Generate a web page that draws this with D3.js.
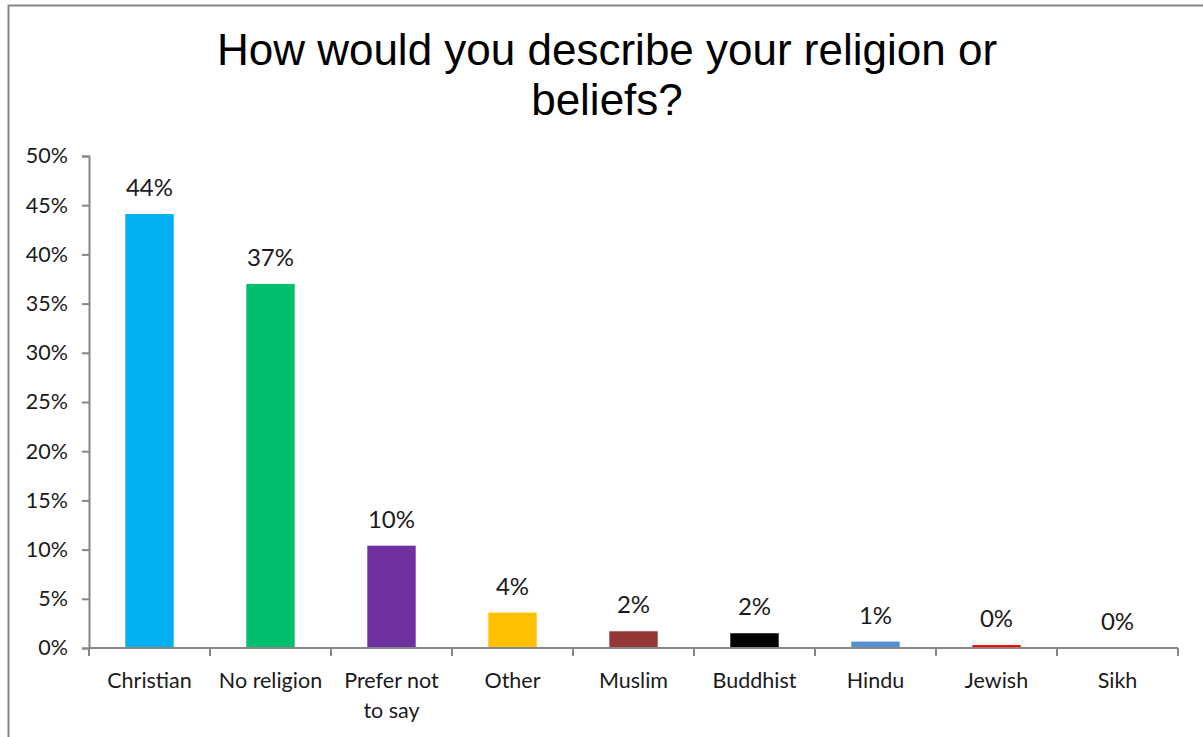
<!DOCTYPE html>
<html>
<head>
<meta charset="utf-8">
<script src="https://cdn.jsdelivr.net/npm/d3@7"></script>
<style>
  html, body { margin: 0; padding: 0; background: #fff; }
  svg { display: block; }
</style>
</head>
<body>
<svg id="chart" width="1203" height="737"></svg>
<script>
// Survey responses: share of respondents by religion or belief
const categories = ["Christian", "No religion", "Prefer not to say", "Other", "Muslim", "Buddhist", "Hindu", "Jewish", "Sikh"];
const shares = [44.1, 37.0, 10.4, 3.6, 1.7, 1.5, 0.65, 0.3, 0.0];
const barColors = ["#00B0F0", "#00BF6F", "#7030A0", "#FFC000", "#953735", "#000000", "#558ED5", "#FF0000", "#92D050"];
const yTicks = [0, 5, 10, 15, 20, 25, 30, 35, 40, 45, 50];
const titleLines = ["How would you describe your religion or", "beliefs?"];

const labelFont = "Lato, 'Open Sans', sans-serif";
const textColor = "#1a1a1a";
const svg = d3.select("#chart");

// outer chart frame
svg.append("rect")
  .attr("x", 8.5).attr("y", 5.5)
  .attr("width", 1220).attr("height", 760)
  .attr("fill", "#fff")
  .attr("stroke", "#868686").attr("stroke-width", 2);

// title
svg.append("text")
  .attr("x", 607).attr("y", 65)
  .attr("text-anchor", "middle")
  .attr("font-family", "'Liberation Sans', Arial, sans-serif")
  .attr("font-size", 44)
  .attr("fill", "#000")
  .selectAll("tspan")
  .data(titleLines)
  .join("tspan")
  .attr("x", 607)
  .attr("dy", (d, i) => i === 0 ? 0 : 50)
  .text(d => d);

const plot = { left: 89, right: 1178, top: 156, bottom: 648 };

const x = d3.scaleBand()
  .domain(categories)
  .range([plot.left, plot.right])
  .paddingInner(0.6)
  .paddingOuter(0.3);

const y = d3.scaleLinear()
  .domain([0, 50])
  .range([plot.bottom, plot.top]);

// y axis
const yAxis = svg.append("g")
  .attr("transform", `translate(${plot.left},0)`)
  .call(d3.axisLeft(y).tickValues(yTicks).tickFormat(d => d + "%").tickSize(7).tickPadding(14));
yAxis.select(".domain").attr("stroke", "#868686").attr("stroke-width", 2);
yAxis.selectAll(".tick line").attr("stroke", "#868686").attr("stroke-width", 2);
yAxis.selectAll(".tick text")
  .attr("font-family", labelFont).attr("font-size", 21.5).attr("fill", textColor);

// bars
svg.append("g")
  .selectAll("rect")
  .data(categories)
  .join("rect")
  .attr("x", d => x(d))
  .attr("width", x.bandwidth())
  .attr("y", (d, i) => y(shares[i]))
  .attr("height", (d, i) => y(0) - y(shares[i]))
  .attr("fill", (d, i) => barColors[i]);

// value labels
svg.append("g")
  .selectAll("text")
  .data(categories)
  .join("text")
  .attr("x", d => x(d) + x.bandwidth() / 2)
  .attr("y", (d, i) => y(shares[i]) - 18)
  .attr("text-anchor", "middle")
  .attr("font-family", labelFont).attr("font-size", 24).attr("fill", textColor)
  .text((d, i) => Math.round(shares[i]) + "%");

// x axis with tick marks on category boundaries
const xAxisG = svg.append("g").attr("transform", `translate(0,${plot.bottom})`);
xAxisG.append("line")
  .attr("x1", plot.left).attr("x2", plot.right)
  .attr("stroke", "#868686").attr("stroke-width", 2);
const boundaries = d3.range(categories.length + 1).map(i => plot.left + i * (plot.right - plot.left) / categories.length);
xAxisG.selectAll("line.tick")
  .data(boundaries)
  .join("line")
  .attr("class", "tick")
  .attr("x1", d => d).attr("x2", d => d)
  .attr("y1", 0).attr("y2", 8)
  .attr("stroke", "#868686").attr("stroke-width", 2);

// category labels, wrapped where they are long
const catLines = { "Prefer not to say": ["Prefer not", "to say"] };
xAxisG.selectAll("text.cat")
  .data(categories)
  .join("text")
  .attr("class", "cat")
  .attr("text-anchor", "middle")
  .attr("font-family", labelFont).attr("font-size", 21.5).attr("fill", textColor)
  .attr("y", 40)
  .each(function (d) {
    const lines = catLines[d] || [d];
    const cx = x(d) + x.bandwidth() / 2;
    d3.select(this).selectAll("tspan")
      .data(lines)
      .join("tspan")
      .attr("x", cx)
      .attr("dy", (l, i) => i === 0 ? 0 : 30)
      .text(l => l);
  });
</script>
</body>
</html>
